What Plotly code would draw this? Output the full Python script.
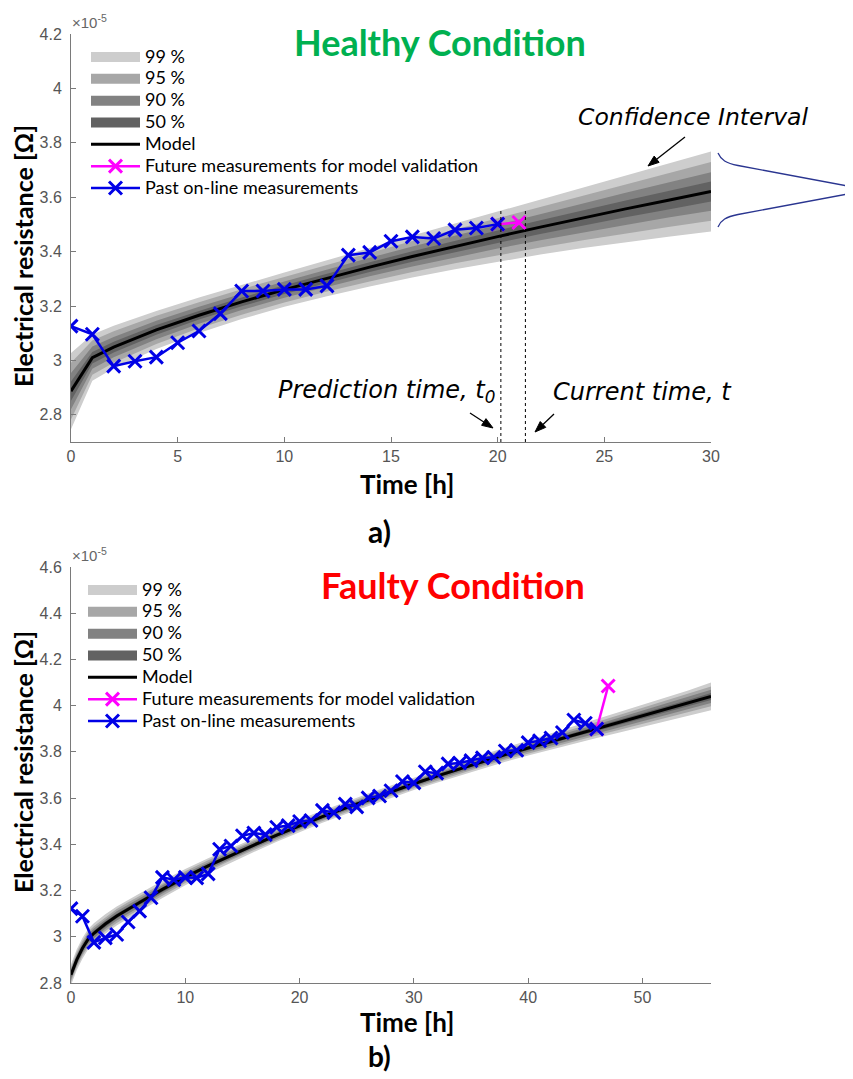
import math
import plotly.graph_objects as go

# ---------------- data (values in units of 1e-5 Ohm) ----------------
# Healthy condition (top)
top_t = [0, 1, 2, 4, 6, 8, 10, 12, 14, 16, 18, 20, 22, 24, 26, 28, 30]
top_model = [2.887, 3.010, 3.049, 3.112, 3.166, 3.215, 3.260, 3.302, 3.343, 3.382,
             3.419, 3.455, 3.490, 3.524, 3.557, 3.589, 3.621]
top_hw99 = [0.140, 0.085, 0.078, 0.070, 0.065, 0.063, 0.063, 0.066, 0.071, 0.077,
            0.084, 0.092, 0.101, 0.111, 0.122, 0.134, 0.147]
top_hw95 = [0.104, 0.063, 0.058, 0.052, 0.048, 0.047, 0.047, 0.049, 0.053, 0.057,
            0.062, 0.068, 0.075, 0.082, 0.090, 0.099, 0.108]
top_hw90 = [0.067, 0.041, 0.037, 0.034, 0.031, 0.030, 0.030, 0.032, 0.034, 0.037,
            0.040, 0.044, 0.048, 0.053, 0.059, 0.064, 0.071]
top_hw50 = [0.035, 0.021, 0.020, 0.018, 0.016, 0.016, 0.016, 0.017, 0.018, 0.019,
            0.021, 0.023, 0.025, 0.028, 0.031, 0.034, 0.037]
top_past_t = [0, 1, 2, 3, 4, 5, 6, 7, 8, 9, 10, 11, 12, 13, 14, 15, 16, 17, 18, 19, 20]
top_past = [3.126, 3.096, 2.979, 2.997, 3.012, 3.065, 3.108, 3.172, 3.255, 3.255,
            3.261, 3.261, 3.274, 3.387, 3.397, 3.438, 3.454, 3.448, 3.480, 3.487, 3.501]
top_future_t = [20, 21]
top_future = [3.501, 3.507]
prediction_time = 20.15
current_time = 21.3

# Faulty condition (bottom)
bot_t = [0, 0.5, 1, 1.5, 2, 3, 4, 5, 6, 8, 10, 12, 14, 16, 18, 20, 22, 24, 26, 28,
         30, 32, 34, 36, 38, 40, 42, 44, 46, 48, 50, 52, 54, 56]
bot_model = [2.836, 2.900, 2.950, 2.990, 3.015, 3.055, 3.090, 3.120, 3.148, 3.205,
             3.258, 3.307, 3.353, 3.397, 3.440, 3.481, 3.520, 3.557, 3.593, 3.628,
             3.662, 3.695, 3.727, 3.758, 3.788, 3.817, 3.845, 3.873, 3.900, 3.928,
             3.956, 3.983, 4.010, 4.040]
bot_hw99 = [0.045, 0.045, 0.045, 0.044, 0.043, 0.042, 0.041, 0.040, 0.039, 0.037,
            0.035, 0.033, 0.031, 0.030, 0.029, 0.028, 0.027, 0.027, 0.027, 0.027,
            0.027, 0.028, 0.029, 0.030, 0.031, 0.033, 0.035, 0.037, 0.040, 0.044,
            0.048, 0.052, 0.056, 0.060]
bot_hw95 = [0.032, 0.032, 0.032, 0.032, 0.031, 0.030, 0.030, 0.029, 0.028, 0.027,
            0.025, 0.024, 0.022, 0.022, 0.021, 0.020, 0.019, 0.019, 0.019, 0.019,
            0.019, 0.020, 0.021, 0.022, 0.022, 0.024, 0.025, 0.027, 0.029, 0.032,
            0.035, 0.037, 0.040, 0.043]
bot_hw90 = [0.022, 0.022, 0.022, 0.021, 0.021, 0.020, 0.020, 0.019, 0.019, 0.018,
            0.017, 0.016, 0.015, 0.014, 0.014, 0.013, 0.013, 0.013, 0.013, 0.013,
            0.013, 0.013, 0.014, 0.014, 0.015, 0.016, 0.017, 0.018, 0.019, 0.021,
            0.023, 0.025, 0.027, 0.029]
bot_hw50 = [0.011, 0.011, 0.011, 0.011, 0.011, 0.011, 0.010, 0.010, 0.010, 0.009,
            0.009, 0.008, 0.008, 0.008, 0.007, 0.007, 0.007, 0.007, 0.007, 0.007,
            0.007, 0.007, 0.007, 0.008, 0.008, 0.008, 0.009, 0.009, 0.010, 0.011,
            0.012, 0.013, 0.014, 0.015]
bot_past_t = list(range(47))
bot_past = [3.122, 3.089, 2.976, 2.995, 3.010, 3.064, 3.111, 3.169, 3.257, 3.247,
            3.257, 3.255, 3.272, 3.379, 3.393, 3.437, 3.449, 3.442, 3.474, 3.481,
            3.499, 3.503, 3.547, 3.537, 3.574, 3.562, 3.601, 3.609, 3.632, 3.672,
            3.666, 3.714, 3.708, 3.748, 3.752, 3.762, 3.774, 3.777, 3.804, 3.807,
            3.840, 3.848, 3.860, 3.884, 3.938, 3.924, 3.899]
bot_future_t = [46, 47]
bot_future = [3.899, 4.085]

band_names = ["99 %", "95 %", "90 %", "50 %"]
band_colors = ["#cdcdcd", "#a7a7a7", "#828282", "#626262"]
top_y_ticks = [2.8, 3.0, 3.2, 3.4, 3.6, 3.8, 4.0, 4.2]
top_y_text = ["2.8", "3", "3.2", "3.4", "3.6", "3.8", "4", "4.2"]
bot_y_ticks = [2.8, 3.0, 3.2, 3.4, 3.6, 3.8, 4.0, 4.2, 4.4, 4.6]
bot_y_text = ["2.8", "3", "3.2", "3.4", "3.6", "3.8", "4", "4.2", "4.4", "4.6"]
top_x_ticks = [0, 5, 10, 15, 20, 25, 30]
bot_x_ticks = [0, 10, 20, 30, 40, 50]

# ---------------- layout helpers (page pixel -> paper) ----------------
OFF = 8                      # page body margin of the html page
W, H = 853 - OFF, 1079 - OFF
ML, MR, MT, MB = 71 - OFF, 142, 34 - OFF, 104 - OFF
PW, PH = W - ML - MR, H - MT - MB


def px(x):
    return (x - OFF - ML) / PW


def py(y):
    return (H - MB - (y - OFF)) / PH


LEG_FONT = "Lato"
LEG_SPAN = "<span style='font-size:18px'>{}</span>"
BLUE = "#0000e6"
MAG = "#ff00ff"

fig = go.Figure()


def add_panel(xa, ya, leg, t, model, hws, past_t, past, fut_t, fut):
    # confidence bands
    for hw, col in zip(hws, band_colors):
        lo = [m - h for m, h in zip(model, hw)]
        hi = [m + h for m, h in zip(model, hw)]
        fig.add_trace(go.Scatter(x=t, y=lo, mode="lines", line=dict(width=0, color=col),
                                 showlegend=False, hoverinfo="skip", xaxis=xa, yaxis=ya))
        fig.add_trace(go.Scatter(x=t, y=hi, mode="lines", line=dict(width=0, color=col),
                                 fill="tonexty", fillcolor=col, showlegend=False,
                                 hoverinfo="skip", xaxis=xa, yaxis=ya))
    # legend swatches for the bands
    for name, col in zip(band_names, band_colors):
        fig.add_trace(go.Scatter(x=[None], y=[None], mode="lines",
                                 line=dict(width=10, color=col),
                                 name=LEG_SPAN.format(name),
                                 legend=leg, xaxis=xa, yaxis=ya))
    fig.add_trace(go.Scatter(x=t, y=model, mode="lines", line=dict(color="black", width=3),
                             name=LEG_SPAN.format("Model"),
                             legend=leg, xaxis=xa, yaxis=ya))
    fig.add_trace(go.Scatter(x=fut_t, y=fut, mode="lines+markers",
                             line=dict(color=MAG, width=2.5),
                             marker=dict(symbol="x-thin", size=13, line=dict(color=MAG, width=3)),
                             name=LEG_SPAN.format("Future measurements for model validation"),
                             legend=leg, xaxis=xa, yaxis=ya))
    fig.add_trace(go.Scatter(x=past_t, y=past, mode="lines+markers",
                             line=dict(color=BLUE, width=2.5),
                             marker=dict(symbol="x-thin", size=13, line=dict(color=BLUE, width=3)),
                             name=LEG_SPAN.format("Past on-line measurements"),
                             legend=leg, xaxis=xa, yaxis=ya))


add_panel("x", "y", "legend", top_t, top_model, [top_hw99, top_hw95, top_hw90, top_hw50],
          top_past_t, top_past, top_future_t, top_future)
add_panel("x2", "y2", "legend2", bot_t, bot_model, [bot_hw99, bot_hw95, bot_hw90, bot_hw50],
          bot_past_t, bot_past, bot_future_t, bot_future)

axis_common = dict(showline=True, linecolor="#7a7a7a", linewidth=1, ticks="inside",
                   ticklen=5, tickcolor="#7a7a7a", showgrid=False, zeroline=False,
                   tickfont=dict(family="Liberation Sans", size=16, color="#555555"),
                   mirror=False)

legend_common = dict(xanchor="left", yanchor="top", traceorder="normal",
                     font=dict(family=LEG_FONT, size=14.5, color="black"),
                     bgcolor="rgba(0,0,0,0)", itemwidth=49, tracegroupgap=0)

fig.update_layout(
    width=W, height=H, margin=dict(l=ML, r=MR, t=MT, b=MB),
    paper_bgcolor="white", plot_bgcolor="white",
    xaxis=dict(domain=[0, 1], anchor="y", range=[0, 30], tickvals=top_x_ticks,
               **axis_common),
    yaxis=dict(domain=[py(442), 1], anchor="x", range=[2.7, 4.2], tickvals=top_y_ticks,
               ticktext=top_y_text, ticklabelstandoff=5, **axis_common),
    xaxis2=dict(domain=[0, 1], anchor="y2", range=[0, 56], tickvals=bot_x_ticks,
                **axis_common),
    yaxis2=dict(domain=[0, py(567)], anchor="x2", range=[2.8, 4.6], tickvals=bot_y_ticks,
                ticktext=bot_y_text, ticklabelstandoff=5, **axis_common),
    legend=dict(x=px(86), y=py(41), **legend_common),
    legend2=dict(x=px(83), y=py(574), **legend_common),
    showlegend=True,
)

ann = []


def text(x, y, s, size, color="black", family="Lato", xanchor="center", yanchor="middle", angle=0):
    ann.append(dict(x=px(x), y=py(y), xref="paper", yref="paper", text=s, showarrow=False,
                    xanchor=xanchor, yanchor=yanchor, textangle=angle,
                    font=dict(family=family, size=size, color=color)))


text(440, 42, "<b>Healthy Condition</b>", 36, color="#00b050")
text(453, 585, "<b>Faulty Condition</b>", 36, color="#ff0000")
text(379, 531, "<b>a)</b>", 30)
text(379, 1056, "<b>b)</b>", 28)
text(407, 484, "<b>Time [h]</b>", 26)
text(407, 1022, "<b>Time [h]</b>", 26)
text(23, 256, "<b>Electrical resistance [Ω]</b>", 25, angle=-90)
text(23, 762, "<b>Electrical resistance [Ω]</b>", 25, angle=-90)
text(70, 33, "×10<sup>-5</sup>", 15, color="#666666", family="Liberation Sans",
     xanchor="left", yanchor="bottom")
text(70, 566, "×10<sup>-5</sup>", 15, color="#666666", family="Liberation Sans",
     xanchor="left", yanchor="bottom")
text(693, 117, "<i>Confidence Interval</i>", 23.5, family="DejaVu Sans")
text(386, 392, "<i>Prediction time, t<sub>0</sub></i>", 24, family="DejaVu Sans")
text(642, 392, "<i>Current time, t</i>", 24, family="DejaVu Sans")
fig.update_layout(annotations=ann)

shapes = []
for tt in [prediction_time, current_time]:
    shapes.append(dict(type="line", xref="x", yref="y", x0=tt, x1=tt, y0=2.7, y1=3.555,
                       line=dict(color="black", width=1, dash="dot")))


def path(pts):
    s = ""
    for cmd, p in pts:
        s += cmd + " ".join(f"{px(a):.5f},{py(b):.5f}" for a, b in p) + " "
    return s.strip()


# arrows drawn as shapes (tail pixel -> head pixel)
for (tx, ty), (hx, hy) in [((685, 137), (648, 166)), ((470, 413), (493, 428)),
                           ((554, 414), (535, 432))]:
    L = math.hypot(hx - tx, hy - ty)
    ux, uy = (hx - tx) / L, (hy - ty) / L
    bx, by = hx - 11 * ux, hy - 11 * uy
    nx, ny = -uy, ux
    shapes.append(dict(type="path", xref="paper", yref="paper",
                       path=path([("M", [(tx, ty)]), ("L", [(bx, by)])]),
                       line=dict(color="black", width=1.3)))
    shapes.append(dict(type="path", xref="paper", yref="paper",
                       path=path([("M", [(hx, hy)]), ("L", [(bx + 4 * nx, by + 4 * ny)]),
                                  ("L", [(bx - 4 * nx, by - 4 * ny)])]) + " Z",
                       fillcolor="black", line=dict(color="black", width=1)))

bell_upper = path([("M", [(718, 153)]), ("C", [(721, 160), (726, 163), (738, 165.5)]),
                   ("L", [(853, 187)])])
bell_lower = path([("M", [(853, 193)]), ("L", [(738, 214.5)]),
                   ("C", [(726, 217), (721, 220), (718, 227)])])
for p in [bell_upper, bell_lower]:
    shapes.append(dict(type="path", xref="paper", yref="paper", path=p,
                       line=dict(color="#2a3590", width=1.3)))
fig.update_layout(shapes=shapes)

fig.write_html("out.html")
